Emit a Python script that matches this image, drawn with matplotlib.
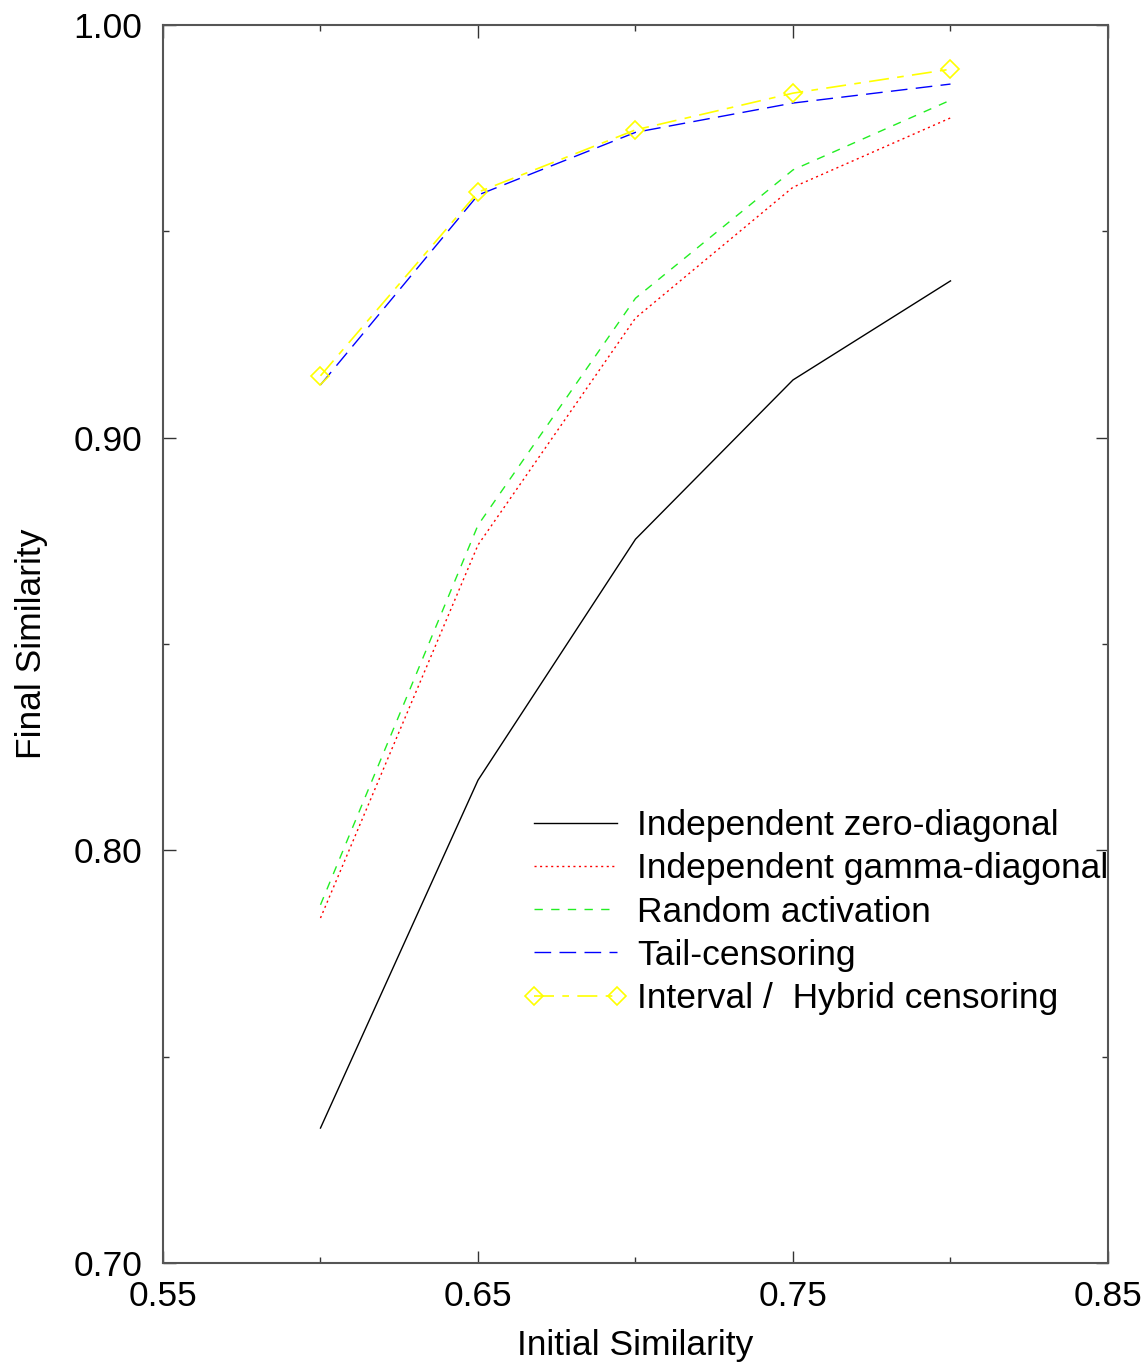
import matplotlib
matplotlib.use("Agg")
import matplotlib.pyplot as plt
from matplotlib.ticker import FixedLocator, FormatStrFormatter

plt.rcParams['font.family'] = ['Liberation Sans', 'DejaVu Sans']

initial = [0.60, 0.65, 0.70, 0.75, 0.80]
zero_diag = [0.7327, 0.8170, 0.8754, 0.9140, 0.9380]
gamma_diag = [0.7836, 0.8740, 0.9290, 0.9607, 0.9775]
random_act = [0.7868, 0.8788, 0.9338, 0.9649, 0.9818]
tail_cens = [0.9128, 0.9588, 0.9740, 0.9811, 0.9857]
hybrid_cens = [0.9150, 0.9595, 0.9746, 0.9835, 0.9893]

labels = ["Independent zero-diagonal", "Independent gamma-diagonal",
          "Random activation", "Tail-censoring", "Interval /  Hybrid censoring"]

x_major = [0.55, 0.65, 0.75, 0.85]
x_minor = [0.60, 0.70, 0.80]
y_major = [0.70, 0.80, 0.90, 1.00]
y_minor = [0.75, 0.85, 0.95]

FS = 25.5

fig = plt.figure(figsize=(11.47, 13.62), dpi=100)
ax = fig.add_axes([0.1421, 0.0727, 0.9660 - 0.1421, 0.9816 - 0.0727])

ax.plot(initial, zero_diag, color='black', lw=1.0, ls='-', label=labels[0])
ax.plot(initial, gamma_diag, color='red', lw=1.0, ls=(0, (1.5, 2.5)), label=labels[1])
ax.plot(initial, random_act, color='#22ee22', lw=1.0, ls=(0, (6, 6)), label=labels[2])
ax.plot(initial, tail_cens, color='blue', lw=1.0, ls=(0, (12, 6)), label=labels[3])
ax.plot(initial, hybrid_cens, color='yellow', lw=1.2, ls=(0, (12, 5, 4, 5)),
        marker='D', markersize=9, markerfacecolor='none', markeredgecolor='yellow',
        markeredgewidth=1.2, label=labels[4])

ax.set_xlim(0.55, 0.85)
ax.set_ylim(0.70, 1.00)
ax.xaxis.set_major_locator(FixedLocator(x_major))
ax.xaxis.set_minor_locator(FixedLocator(x_minor))
ax.yaxis.set_major_locator(FixedLocator(y_major))
ax.yaxis.set_minor_locator(FixedLocator(y_minor))
ax.xaxis.set_major_formatter(FormatStrFormatter('%.2f'))
ax.yaxis.set_major_formatter(FormatStrFormatter('%.2f'))

ax.tick_params(which='both', direction='in', top=True, right=True, labelsize=FS, color='#333333')
ax.tick_params(which='major', length=9, width=1.0, pad=12)
ax.tick_params(axis='y', which='major', pad=15)
ax.tick_params(which='minor', length=4.5, width=1.0)
for s in ax.spines.values():
    s.set_color('#555555')
    s.set_linewidth(1.5)

ax.set_xlabel('Initial Similarity', fontsize=FS, labelpad=12)
ax.set_ylabel('Final Similarity', fontsize=FS, labelpad=18)

ax.legend(loc='upper left', bbox_to_anchor=(0.381, 0.3667), frameon=False, fontsize=FS,
          handlelength=2.94, handletextpad=0.28, labelspacing=0.29, borderaxespad=0,
          borderpad=0, numpoints=2)

fig.savefig('out.png', dpi=100)
